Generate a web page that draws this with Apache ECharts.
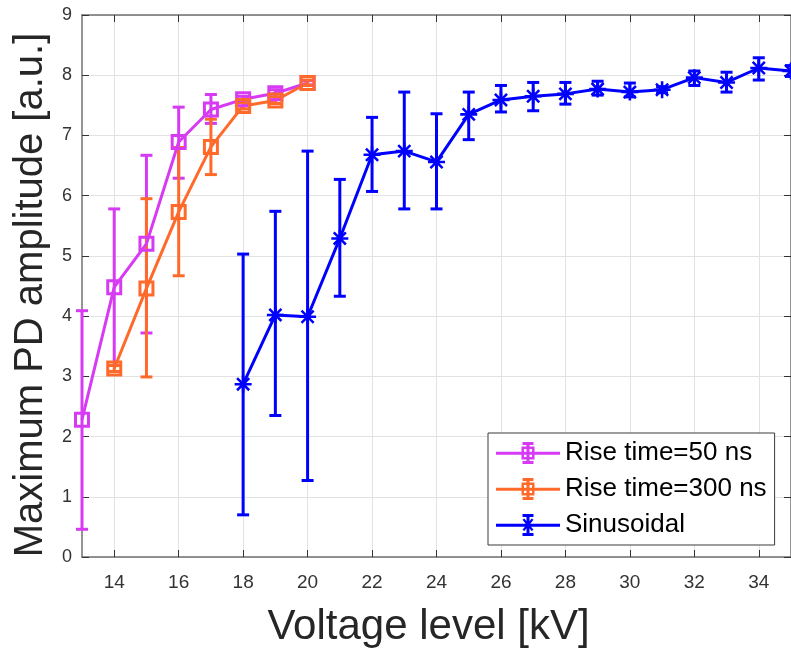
<!DOCTYPE html>
<html>
<head>
<meta charset="utf-8">
<script src="https://cdn.jsdelivr.net/npm/echarts@6/dist/echarts.min.js"></script>
<style>html,body{margin:0;padding:0;background:#fff;}#chart{width:791px;height:653px;}</style>
</head>
<body>
<div id="chart"></div>
<script>
// ---- data ----
const xTicks = [14, 16, 18, 20, 22, 24, 26, 28, 30, 32, 34];
const yTicks = [0, 1, 2, 3, 4, 5, 6, 7, 8, 9];

const seriesNames = ['Rise time=50 ns', 'Rise time=300 ns', 'Sinusoidal'];

const voltage50 = [13, 14, 15, 16, 17, 18, 19, 20];
const amp50     = [2.28, 4.48, 5.20, 6.89, 7.43, 7.60, 7.70, 7.87];
const low50     = [0.46, 3.18, 3.72, 6.29, 7.20, 7.55, 7.64, 7.84];
const high50    = [4.09, 5.78, 6.67, 7.47, 7.68, 7.65, 7.76, 7.91];

const voltage300 = [14, 15, 16, 17, 18, 19, 20];
const amp300     = [3.13, 4.46, 5.73, 6.81, 7.49, 7.58, 7.87];
const low300     = [3.08, 2.99, 4.67, 6.35, 7.44, 7.53, 7.83];
const high300    = [3.18, 5.95, 6.80, 7.27, 7.54, 7.64, 7.92];

const voltageSin = [18, 19, 20, 21, 22, 23, 24, 25, 26, 27, 28, 29, 30, 31, 32, 33, 34, 35];
const ampSin     = [2.87, 4.02, 3.99, 5.29, 6.68, 6.74, 6.56, 7.35, 7.59, 7.65, 7.69, 7.77, 7.72, 7.76, 7.96, 7.88, 8.12, 8.07];
const lowSin     = [0.70, 2.35, 1.27, 4.33, 6.07, 5.78, 5.78, 6.93, 7.39, 7.41, 7.52, 7.67, 7.64, 7.71, 7.83, 7.72, 7.92, 7.98];
const highSin    = [5.03, 5.74, 6.74, 6.27, 7.30, 7.72, 7.36, 7.72, 7.83, 7.88, 7.88, 7.90, 7.87, 7.81, 8.07, 8.05, 8.29, 8.16];

// ---- styles ----
const colors = ['#D63BF3', '#FF6A2B', '#0000FF'];
const FONT = '"Liberation Sans", Arial, Helvetica, sans-serif';
const LW = 3;

const squareIcon = 'path://M0,9.75H64V12.75H0Z M30.5,1H33.5V21H30.5Z M26.5,0H37.5V3H26.5Z M26.5,19H37.5V22H26.5Z M25.5,4.5H38.5V17.5H25.5Z M28,7V15H36V7Z';
const starIcon = 'path://M0,9.75H64V12.75H0Z M30.5,1H33.5V21H30.5Z M26.5,0H37.5V3H26.5Z M26.5,19H37.5V22H26.5Z M26.5,5.8L28.3,4.5L37.5,15.7L35.7,17Z M35.7,4.5L37.5,5.8L28.3,17L26.5,15.7Z';
const starSymbol = 'path://M8.5,0H11.5V20H8.5Z M0,8.5H20V11.5H0Z M1.8,3.9L3.9,1.8L18.2,16.1L16.1,18.2Z M16.1,1.8L18.2,3.9L3.9,18.2L1.8,16.1Z';

function errData(xs, lo, hi) { return xs.map((x, i) => [x, lo[i], hi[i]]); }
function lineData(xs, ys) { return xs.map((x, i) => [x, ys[i]]); }

function errSeries(name, color, data) {
  return {
    type: 'custom', name: name, data: data, z: 3,
    itemStyle: { color: color },
    encode: { x: 0, y: [1, 2] },
    renderItem: function (params, api) {
      const x = api.value(0), lo = api.value(1), hi = api.value(2);
      const pH = api.coord([x, hi]), pL = api.coord([x, lo]);
      const w = 6;
      const st = { stroke: color, lineWidth: LW, fill: null };
      return { type: 'group', children: [
        { type: 'line', shape: { x1: pH[0], y1: pH[1], x2: pL[0], y2: pL[1] }, style: st },
        { type: 'line', shape: { x1: pH[0] - w, y1: pH[1], x2: pH[0] + w, y2: pH[1] }, style: st },
        { type: 'line', shape: { x1: pL[0] - w, y1: pL[1], x2: pL[0] + w, y2: pL[1] }, style: st }
      ]};
    }
  };
}
function lineSeries(name, color, data, symbol, size, fillMarker) {
  return {
    type: 'line', name: name, data: data, z: 4,
    symbol: symbol, symbolSize: size, showSymbol: true,
    lineStyle: { color: color, width: LW },
    itemStyle: fillMarker ? { color: color } : { color: 'rgba(255,255,255,0)', borderColor: color, borderWidth: LW },
    emphasis: { disabled: true },
    animation: false
  };
}

const axisColor = '#707070';
const chart = echarts.init(document.getElementById('chart'), null, { renderer: 'canvas' });
chart.setOption({
  animation: false,
  backgroundColor: '#fff',
  textStyle: { fontFamily: FONT },
  grid: { left: 82, right: -4, top: 15, bottom: 94, containLabel: false },
  xAxis: [{
    type: 'value', min: 13, max: 35, position: 'bottom',
    name: 'Voltage level [kV]', nameLocation: 'middle', nameGap: 49,
    nameTextStyle: { fontSize: 42, color: '#262626', fontFamily: FONT, padding: [0, 16, 0, 0] },
    axisLine: { show: true, onZero: false, lineStyle: { color: axisColor, width: 1.5 } },
    axisTick: { show: true, inside: true, length: 7, customValues: xTicks, lineStyle: { color: '#333', width: 1 } },
    axisLabel: { customValues: xTicks, fontSize: 19, color: '#333', margin: 16, fontFamily: FONT },
    splitLine: { show: true, lineStyle: { color: '#e2e2e2', width: 1 } }
  }, {
    type: 'value', min: 13, max: 35, position: 'top',
    axisLine: { show: true, onZero: false, lineStyle: { color: axisColor, width: 1.5 } },
    axisTick: { show: true, inside: true, length: 7, customValues: xTicks, lineStyle: { color: '#333', width: 1 } },
    axisLabel: { show: false },
    splitLine: { show: false }
  }],
  yAxis: [{
    type: 'value', min: 0, max: 9, interval: 1, position: 'left',
    name: 'Maximum PD amplitude [a.u.]', nameLocation: 'middle', nameGap: 29,
    nameTextStyle: { fontSize: 40, color: '#262626', fontFamily: FONT, padding: [0, 18, 0, 0] },
    axisLine: { show: true, onZero: false, lineStyle: { color: axisColor, width: 1.5 } },
    axisTick: { show: true, inside: true, length: 7, lineStyle: { color: '#333', width: 1 } },
    axisLabel: { fontSize: 18, color: '#333', margin: 10, fontFamily: FONT },
    splitLine: { show: true, lineStyle: { color: '#e2e2e2', width: 1 } }
  }, {
    type: 'value', min: 0, max: 9, interval: 1, position: 'right',
    axisLine: { show: true, onZero: false, lineStyle: { color: axisColor, width: 1.5 } },
    axisTick: { show: true, inside: true, length: 7, lineStyle: { color: '#333', width: 1 } },
    axisLabel: { show: false },
    splitLine: { show: false }
  }],
  legend: {
    orient: 'vertical', left: 488, top: 433,
    padding: [7, 8, 7, 8], itemGap: 10, itemWidth: 64, itemHeight: 22,
    backgroundColor: '#fff', borderColor: '#3a3a3a', borderWidth: 1,
    textStyle: { fontSize: 26, color: '#000', fontFamily: FONT },
    itemStyle: { borderWidth: 0 },
    selectedMode: false,
    data: [
      { name: seriesNames[0], icon: squareIcon },
      { name: seriesNames[1], icon: squareIcon },
      { name: seriesNames[2], icon: starIcon }
    ]
  },
  series: [
    errSeries(seriesNames[0], colors[0], errData(voltage50, low50, high50)),
    lineSeries(seriesNames[0], colors[0], lineData(voltage50, amp50), 'rect', 13, false),
    errSeries(seriesNames[1], colors[1], errData(voltage300, low300, high300)),
    lineSeries(seriesNames[1], colors[1], lineData(voltage300, amp300), 'rect', 13, false),
    errSeries(seriesNames[2], colors[2], errData(voltageSin, lowSin, highSin)),
    lineSeries(seriesNames[2], colors[2], lineData(voltageSin, ampSin), starSymbol, 17, true)
  ]
});
</script>
</body>
</html>
